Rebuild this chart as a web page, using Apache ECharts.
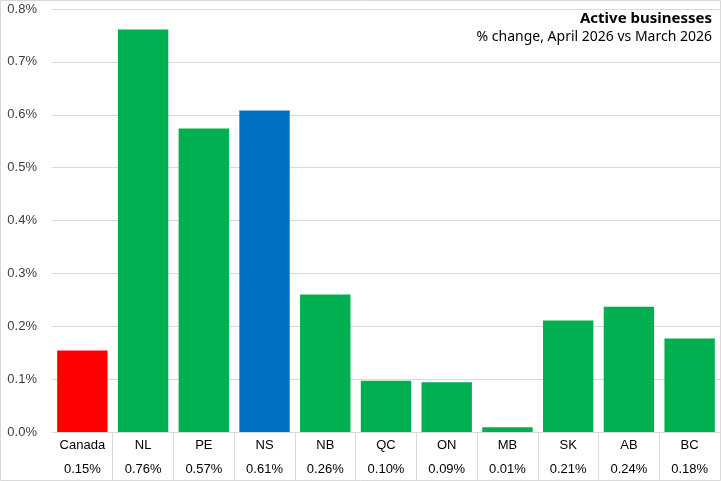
<!DOCTYPE html>
<html>
<head>
<meta charset="utf-8">
<script src="https://cdn.jsdelivr.net/npm/echarts@6/dist/echarts.min.js"></script>
<style>
  html, body { margin: 0; padding: 0; background: #fff; }
  #chart { width: 721px; height: 481px; }
</style>
</head>
<body>
<div id="chart"></div>
<script>
// regions and % change, April vs March
var regions = ['Canada', 'NL', 'PE', 'NS', 'NB', 'QC', 'ON', 'MB', 'SK', 'AB', 'BC'];
var pctChange = [0.154, 0.761, 0.574, 0.608, 0.26, 0.097, 0.094, 0.009, 0.211, 0.237, 0.177];
var tableLabels = ['0.15%', '0.76%', '0.57%', '0.61%', '0.26%', '0.10%', '0.09%', '0.01%', '0.21%', '0.24%', '0.18%'];
var yTicks = [0, 0.1, 0.2, 0.3, 0.4, 0.5, 0.6, 0.7, 0.8];

var barColors = regions.map(function(r) {
    if (r == 'Canada') return '#FF0000';
    if (r == 'NS') return '#0070C0';
    return '#00B050';
});

// table separators: no line at the left edge
var sepColors = ['rgba(0,0,0,0)'].concat(regions.map(function() { return '#d9d9d9'; }));

var font = 'Liberation Sans';
var chart = echarts.init(document.getElementById('chart'));
chart.setOption({
    animation: false,
    title: [
        {
            text: 'Active businesses',
            right: 4,
            top: 6,
            textStyle: { fontFamily: 'Noto Sans', fontSize: 15, fontWeight: 'bold', color: '#000' }
        },
        {
            text: '% change, April 2026 vs March 2026',
            right: 4,
            top: 25,
            textStyle: { fontFamily: 'Noto Sans', fontSize: 14, fontWeight: 'normal', color: '#000' }
        }
    ],
    graphic: [{
        type: 'rect',
        shape: { x: 0.5, y: 0.5, width: 720, height: 480 },
        style: { fill: 'none', stroke: '#d9d9d9', lineWidth: 1 },
        silent: true
    }],
    grid: [
        { left: 52, right: 1, top: 9, bottom: 48.5 },
        { left: 52, right: 1, top: 432.5, bottom: 1 }
    ],
    xAxis: [
        {
            type: 'category',
            gridIndex: 0,
            data: regions,
            axisLine: { lineStyle: { color: '#d9d9d9' } },
            axisTick: { show: false },
            axisLabel: {
                fontFamily: font,
                fontSize: 13,
                color: '#000',
                margin: 1,
                lineHeight: 24,
                formatter: function(v, i) {
                    return v + '\n' + tableLabels[i];
                }
            }
        },
        {
            type: 'category',
            gridIndex: 1,
            data: regions,
            axisLine: { show: false },
            axisTick: { show: false },
            axisLabel: { show: false },
            splitLine: {
                show: true,
                interval: 0,
                lineStyle: { color: sepColors }
            }
        }
    ],
    yAxis: [
        {
            type: 'value',
            gridIndex: 0,
            min: yTicks[0],
            max: yTicks[yTicks.length - 1],
            interval: 0.1,
            axisLabel: {
                fontFamily: font,
                fontSize: 13,
                color: '#404040',
                margin: 15,
                formatter: function(v) { return v.toFixed(1) + '%'; }
            },
            splitLine: { lineStyle: { color: '#d9d9d9' } },
            axisLine: { show: false },
            axisTick: { show: false }
        },
        {
            type: 'value',
            gridIndex: 1,
            show: false
        }
    ],
    series: [
        {
            type: 'bar',
            xAxisIndex: 0,
            yAxisIndex: 0,
            barCategoryGap: '17%',
            data: pctChange.map(function(v, i) {
                return { value: v, itemStyle: { color: barColors[i] } };
            })
        }
    ]
});
</script>
</body>
</html>
